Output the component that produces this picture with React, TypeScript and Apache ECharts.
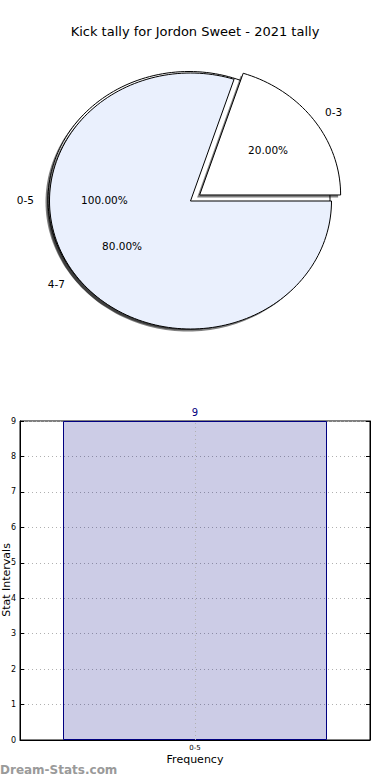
import React, { useEffect, useRef } from "react";
import * as echarts from "echarts";

// ---- data ----
const titleText = "Kick tally for Jordon Sweet - 2021 tally";
const pieOuterLabels = ["0-5"];
const pieOuterValues = [9];
const pieInnerLabels = ["0-3", "4-7"];
const pieInnerValues = [1, 4];
const pieInnerExplode = [0.08, 0];
const barCategories = ["0-5"];
const barValues = [9];
const yTicks = [0, 1, 2, 3, 4, 5, 6, 7, 8, 9];

const FONT = "DejaVu Sans";

export default function App() {
  const ref = useRef<HTMLDivElement>(null);
  useEffect(() => {
    if (!ref.current) return;
    const chart = echarts.init(ref.current, null, { renderer: "svg" });

    const RX = 141;
    const RY = 128;
    const OUTER_C = [189, 199.5];
    const INNER_C = [190.5, 201];
    const colors: Record<string, string> = { "0-5": "#ffffff", "0-3": "#ffffff", "4-7": "#eaf0fd" };

    type Slice = { name: string; start: number; end: number; explode: number; center: number[]; pct: number };
    const slices: Slice[] = [];
    const build = (labels: string[], values: number[], explode: number[], center: number[]) => {
      const total = values.reduce((a, b) => a + b, 0);
      let acc = 0;
      labels.forEach((l, i) => {
        const s = acc / total;
        acc += values[i];
        slices.push({ name: l, start: s, end: acc / total, explode: explode[i] || 0, center, pct: (values[i] / total) * 100 });
      });
    };
    build(pieOuterLabels, pieOuterValues, [0], OUTER_C);
    build(pieInnerLabels, pieInnerValues, pieInnerExplode, INNER_C);

    const renderItem = (params: any, api: any) => {
      const i = params.dataIndex;
      const sl = slices[i];
      const a0 = api.value(0) * 2 * Math.PI;
      const a1 = api.value(1) * 2 * Math.PI;
      const mid = (a0 + a1) / 2;
      const ex = sl.explode;
      const cx = sl.center[0] + ex * RX * Math.cos(mid);
      const cy = sl.center[1] - ex * RY * Math.sin(mid);
      const full = api.value(1) - api.value(0) >= 0.9999;
      const pts = (ox: number, oy: number) => {
        const p: number[][] = [];
        if (!full) p.push([cx + ox, cy + oy]);
        const n = Math.max(8, Math.ceil(((a1 - a0) / (2 * Math.PI)) * 200));
        for (let k = 0; k <= n; k++) {
          const t = a0 + ((a1 - a0) * k) / n;
          p.push([cx + ox + RX * Math.cos(t), cy + oy - RY * Math.sin(t)]);
        }
        return p;
      };
      const lx = cx + 1.1 * RX * Math.cos(mid);
      const ly = cy - 1.1 * RY * Math.sin(mid);
      const px = cx + 0.6 * RX * Math.cos(mid);
      const py = cy - 0.6 * RY * Math.sin(mid);
      return {
        type: "group",
        children: [
          { type: "polygon", z2: i * 2, shape: { points: pts(-2.5, 2.5) }, style: { fill: "rgba(0,0,0,0.5)", stroke: "none" } },
          { type: "polygon", z2: i * 2 + 1, shape: { points: pts(0, 0) }, style: { fill: colors[sl.name], stroke: "#000", lineWidth: 1 } },
          {
            type: "text",
            z2: 100,
            style: { text: sl.name, x: lx, y: ly, align: Math.cos(mid) > 0 ? "left" : "right", verticalAlign: "middle", fontSize: 10.5, fontFamily: FONT, fill: "#000" },
          },
          {
            type: "text",
            z2: 100,
            style: { text: sl.pct.toFixed(2) + "%", x: px, y: py, align: "center", verticalAlign: "middle", fontSize: 10.5, fontFamily: FONT, fill: "#000" },
          },
        ],
      };
    };

    const option: any = {
      animation: false,
      textStyle: { fontFamily: FONT },
      title: {
        text: titleText,
        left: "center",
        top: 20,
        textStyle: { fontFamily: FONT, fontSize: 13, fontWeight: "normal", color: "#000" },
      },
      grid: { left: 20, right: 20, top: 421, bottom: 40, show: true, borderColor: "#000", borderWidth: 1, containLabel: false, outerBoundsMode: "none" },
      xAxis: {
        type: "category",
        data: barCategories,
        axisLine: { lineStyle: { color: "#000" } },
        axisTick: { show: false },
        axisLabel: { fontSize: 7, color: "#000", margin: 4 },
        name: "Frequency",
        nameLocation: "middle",
        nameGap: 14,
        nameTextStyle: { fontSize: 11, color: "#000" },
        splitLine: { show: false },
      },
      yAxis: [
        {
          type: "value",
          min: 0,
          max: 9,
          interval: 1,
          axisLine: { show: true, lineStyle: { color: "#000" } },
          axisTick: { show: true, inside: true, length: 4, lineStyle: { color: "#000" } },
          axisLabel: { fontSize: 8, color: "#000", margin: 4, formatter: (v: number) => (yTicks.includes(v) ? String(v) : "") },
          splitLine: { show: true, lineStyle: { color: "#b0b0b0", type: [1, 3], width: 1 } },
        },
        {
          type: "value",
          position: "right",
          min: 0,
          max: 9,
          interval: 1,
          axisLine: { show: true, lineStyle: { color: "#000" } },
          axisTick: { show: true, inside: true, length: 4, lineStyle: { color: "#000" } },
          axisLabel: { show: false },
          splitLine: { show: false },
        },
      ],
      series: [
        {
          type: "bar",
          data: barValues,
          barWidth: 264,
          itemStyle: { color: "rgba(0,0,128,0.2)", borderColor: "#000080", borderWidth: 1 },
          label: { show: true, position: "top", distance: 4, color: "#000080", fontSize: 10, fontFamily: FONT },
          markLine: {
            silent: true,
            symbol: "none",
            label: { show: false },
            lineStyle: { color: "#b0b0b0", type: [1, 3], width: 1 },
            data: [{ xAxis: "0-5" }],
          },
        },
        {
          type: "custom",
          coordinateSystem: "none",
          renderItem,
          data: slices.map((s) => ({ name: s.name, value: [s.start, s.end] })),
        },
      ],
      graphic: [
        {
          type: "text",
          x: 6,
          y: 580,
          rotation: Math.PI / 2,
          style: { text: "Stat Intervals", fontSize: 11, fontFamily: FONT, fill: "#000", align: "center", verticalAlign: "middle" },
        },
        {
          type: "text",
          left: 0,
          top: 764,
          style: { text: "Dream-Stats.com", fontSize: 12, fontFamily: FONT, fill: "#9a9a9a", fontWeight: "bold" },
        },
      ],
    };
    chart.setOption(option);
    return () => chart.dispose();
  }, []);
  return <div ref={ref} style={{ position: "absolute", left: 0, top: 0, width: 390, height: 780 }} />;
}
